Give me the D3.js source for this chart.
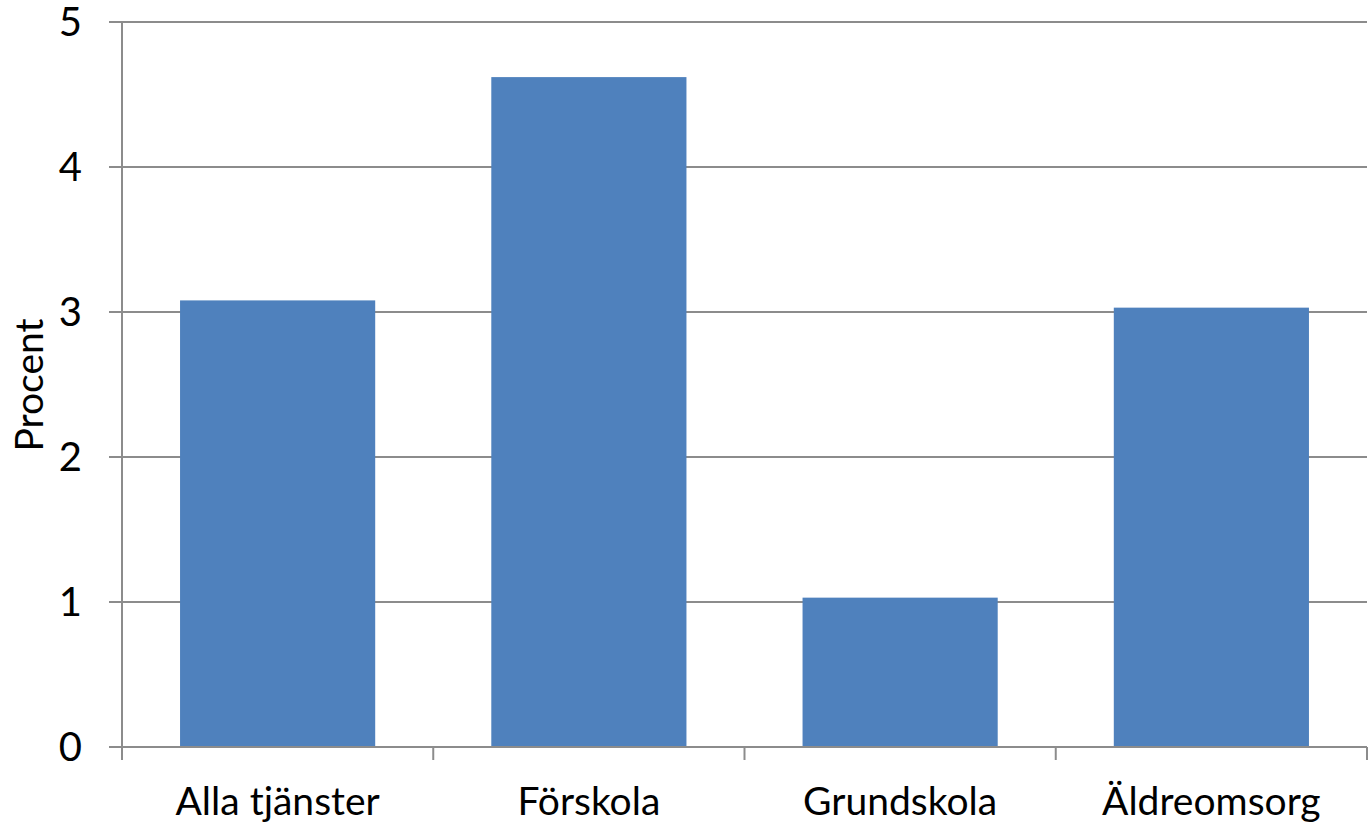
<!DOCTYPE html>
<html>
<head>
    <meta charset="utf-8">
    <title>Procent per tjänst</title>
    <script src="https://d3js.org/d3.v7.min.js"></script>
    <style>
        body { margin: 0; background: #fff; }
        text { font-family: Lato, "Open Sans", sans-serif; fill: #000; }
    </style>
</head>
<body>
    <script>
        const categories = ["Alla tjänster", "Förskola", "Grundskola", "Äldreomsorg"];
        const values = [3.08, 4.62, 1.03, 3.03];
        const yTicks = [0, 1, 2, 3, 4, 5];

        const width = 1368;
        const height = 824;
        const margin = {top: 22, right: 1, bottom: 77, left: 122};

        const svg = d3.select('body').append('svg')
            .attr('width', width)
            .attr('height', height);

        const x = d3.scaleBand()
            .domain(categories)
            .range([margin.left, width - margin.right])
            .paddingInner(0.373)
            .paddingOuter(0.1865);

        const y = d3.scaleLinear()
            .domain([0, 5])
            .range([height - margin.bottom, margin.top]);

        // gridlines with the small ticks left of the axis
        svg.append('g')
            .selectAll('line')
            .data(yTicks)
            .enter().append('line')
            .attr('x1', margin.left - 13)
            .attr('x2', width - margin.right)
            .attr('y1', d => y(d))
            .attr('y2', d => y(d))
            .style('stroke', '#8c8c8c')
            .style('stroke-width', 2);

        svg.append('g')
            .selectAll('rect')
            .data(values)
            .enter().append('rect')
            .attr('x', (d, i) => x(categories[i]))
            .attr('y', d => y(d))
            .attr('width', x.bandwidth())
            .attr('height', d => y(0) - y(d))
            .style('fill', '#4f81bd');

        // y axis line
        svg.append('line')
            .attr('x1', margin.left).attr('x2', margin.left)
            .attr('y1', y(5)).attr('y2', y(0) + 13)
            .style('stroke', '#8c8c8c')
            .style('stroke-width', 2);

        // x axis base line and category separators
        svg.append('line')
            .attr('x1', margin.left).attr('x2', width - margin.right)
            .attr('y1', y(0)).attr('y2', y(0))
            .style('stroke', '#8c8c8c')
            .style('stroke-width', 2);

        const step = x.step();
        svg.append('g')
            .selectAll('line')
            .data(d3.range(categories.length + 1))
            .enter().append('line')
            .attr('x1', i => x(categories[0]) - step * x.paddingOuter() + i * step)
            .attr('x2', i => x(categories[0]) - step * x.paddingOuter() + i * step)
            .attr('y1', y(0))
            .attr('y2', y(0) + 13)
            .style('stroke', '#8c8c8c')
            .style('stroke-width', 2);

        svg.append('g')
            .selectAll('text')
            .data(yTicks)
            .enter().append('text')
            .attr('x', 82)
            .attr('y', d => y(d))
            .attr('dy', '0.35em')
            .attr('text-anchor', 'end')
            .attr('font-size', 40)
            .text(d => d);

        svg.append('g')
            .selectAll('text')
            .data(categories)
            .enter().append('text')
            .attr('x', d => x(d) + x.bandwidth() / 2)
            .attr('y', 815)
            .attr('text-anchor', 'middle')
            .attr('font-size', 39)
            .text(d => d);

        svg.append('text')
            .attr('transform', 'translate(43, 385) rotate(-90)')
            .attr('text-anchor', 'middle')
            .attr('font-size', 39)
            .text('Procent');
    </script>
</body>
</html>
